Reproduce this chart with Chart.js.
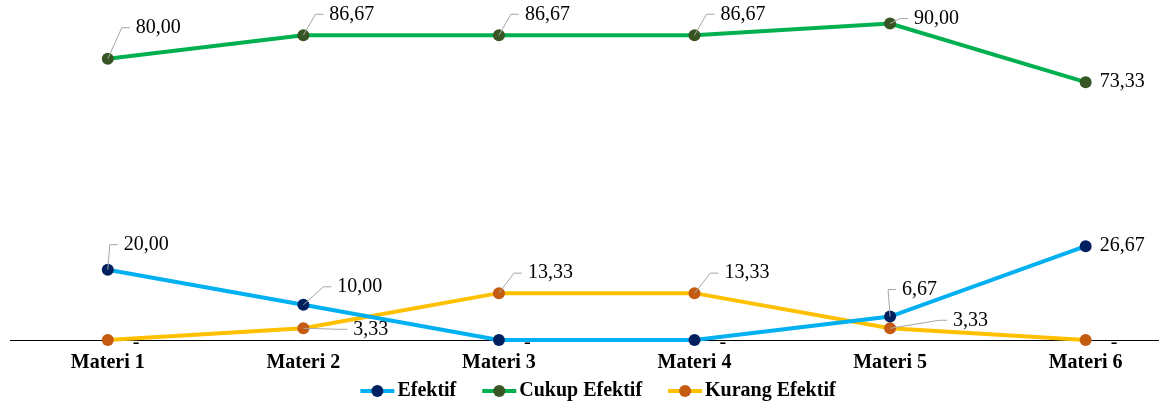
<!DOCTYPE html>
<html>
<head>
<meta charset="utf-8">
<script src="https://cdn.jsdelivr.net/npm/chart.js@4.4.1/dist/chart.umd.min.js"></script>
<style>
  html, body { margin: 0; padding: 0; background: #fff; }
  #wrap { width: 1164px; height: 407px; }
</style>
</head>
<body>
<div id="wrap"><canvas id="chart"></canvas></div>
<script>
// Chart data
const categories = ["Materi 1", "Materi 2", "Materi 3", "Materi 4", "Materi 5", "Materi 6"];
const efektif = [20.00, 10.00, 0, 0, 6.67, 26.67];
const cukupEfektif = [80.00, 86.67, 86.67, 86.67, 90.00, 73.33];
const kurangEfektif = [0, 3.33, 13.33, 13.33, 3.33, 0];

// label offsets (text left / middle) from each point, in px
const labelOffsets = {
  efektif: [[16, -25], [34, -18], [25, 3], [25, 3], [12, -27], [14, 0]],
  cukup: [[28, -31], [26, -21], [26, -21], [26, -21], [24, -5], [14, 0]],
  kurang: [[25, 3], [50, 1], [29, -20], [30, -20], [63, -8], [25, 3]]
};

const serif = "'Liberation Serif', 'Times New Roman', serif";

function toPoints(values) {
  return values.map((v, i) => ({ x: i + 1, y: v }));
}

function fmt(v) {
  if (v === 0) return "-";
  return v.toFixed(2).replace(".", ",");
}

const dataLabels = {
  id: 'dataLabels',
  afterDatasetsDraw(chart) {
    const ctx = chart.ctx;
    ctx.save();
    ctx.font = "20px " + serif;
    ctx.textBaseline = 'middle';
    ctx.textAlign = 'left';
    chart.data.datasets.forEach((ds, di) => {
      const meta = chart.getDatasetMeta(di);
      const offs = labelOffsets[ds.key];
      meta.data.forEach((pt, i) => {
        const v = ds.data[i].y;
        const [dx, dy] = offs[i];
        const tx = pt.x + dx;
        const ty = pt.y + dy;
        if (v !== 0 && (Math.abs(dy) > 4 || dx > 20)) {
          ctx.strokeStyle = '#A6A6A6';
          ctx.lineWidth = 1;
          ctx.beginPath();
          ctx.moveTo(pt.x, pt.y);
          ctx.lineTo(tx - 14, ty);
          ctx.lineTo(tx - 6, ty);
          ctx.stroke();
        }
        ctx.fillStyle = '#000';
        ctx.fillText(fmt(v), tx, ty);
      });
    });
    ctx.restore();
  }
};

// legend drawn by hand: line with a dot, then bold text
const lineLegend = {
  id: 'lineLegend',
  afterDraw(chart) {
    const ctx = chart.ctx;
    const sets = chart.data.datasets;
    ctx.save();
    ctx.font = "bold 20px " + serif;
    ctx.textBaseline = 'middle';
    ctx.textAlign = 'left';
    const markW = 34, gap = 3, itemGap = 26, y = 391;
    const widths = sets.map(ds => markW + gap + ctx.measureText(ds.label).width);
    const total = widths.reduce((a, b) => a + b, 0) + itemGap * (sets.length - 1);
    let x = 598 - total / 2;
    sets.forEach((ds, i) => {
      ctx.strokeStyle = ds.borderColor;
      ctx.lineWidth = 4;
      ctx.beginPath();
      ctx.moveTo(x, y);
      ctx.lineTo(x + markW, y);
      ctx.stroke();
      ctx.fillStyle = ds.pointBackgroundColor;
      ctx.beginPath();
      ctx.arc(x + markW / 2, y, 6, 0, Math.PI * 2);
      ctx.fill();
      ctx.fillStyle = '#000';
      ctx.fillText(ds.label, x + markW + gap, y);
      x += widths[i] + itemGap;
    });
    ctx.restore();
  }
};

const ctx = document.getElementById('chart').getContext('2d');
new Chart(ctx, {
  type: 'line',
  data: {
    datasets: [
      {
        key: 'efektif',
        label: 'Efektif',
        data: toPoints(efektif),
        borderColor: '#00B0F0',
        pointBackgroundColor: '#002060',
        pointBorderColor: '#002060'
      },
      {
        key: 'cukup',
        label: 'Cukup Efektif',
        data: toPoints(cukupEfektif),
        borderColor: '#00B050',
        pointBackgroundColor: '#375623',
        pointBorderColor: '#375623'
      },
      {
        key: 'kurang',
        label: 'Kurang Efektif',
        data: toPoints(kurangEfektif),
        borderColor: '#FFC000',
        pointBackgroundColor: '#C55A11',
        pointBorderColor: '#C55A11'
      }
    ]
  },
  options: {
    responsive: true,
    maintainAspectRatio: false,
    animation: false,
    clip: false,
    layout: { padding: { top: 5, left: 10, right: 4, bottom: 21 } },
    elements: {
      line: { borderWidth: 4, tension: 0 },
      point: { radius: 6, borderWidth: 0, hoverRadius: 6 }
    },
    scales: {
      x: {
        type: 'linear',
        min: 0.5,
        max: 6.37,
        afterBuildTicks: axis => {
          axis.ticks = categories.map((c, i) => ({ value: i + 1 }));
        },
        grid: { display: false, drawTicks: false },
        border: { display: true, color: '#000', width: 1 },
        ticks: {
          padding: 13,
          color: '#000',
          font: { family: serif, size: 20, weight: 'bold', lineHeight: 1 },
          callback: v => categories[v - 1],
          maxRotation: 0,
          autoSkip: false
        }
      },
      y: {
        display: false,
        min: 0,
        max: 95
      }
    },
    plugins: {
      legend: { display: false },
      tooltip: { enabled: false }
    }
  },
  plugins: [dataLabels, lineLegend]
});
</script>
</body>
</html>
